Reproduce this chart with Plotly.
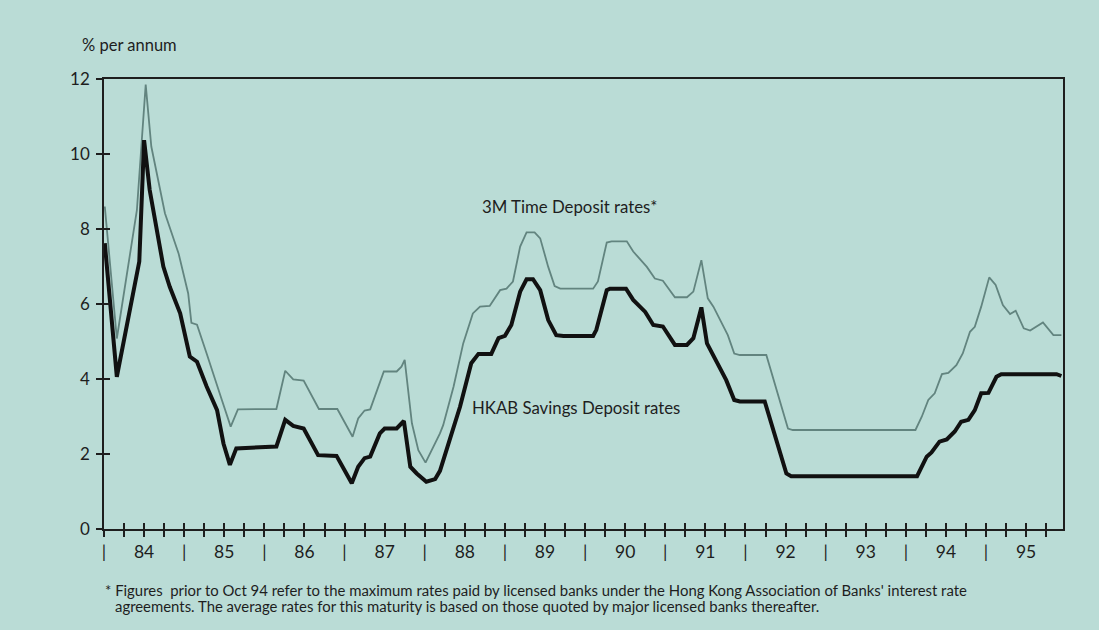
import plotly.graph_objects as go

# HKAB Savings Deposit rates (% p.a.), date as decimal year
hkab_t = [1984.01, 1984.16, 1984.44, 1984.50, 1984.57, 1984.74, 1984.82, 1984.95, 1985.07, 1985.16,
          1985.28, 1985.41, 1985.49, 1985.57, 1985.65, 1986.15, 1986.26, 1986.36, 1986.49, 1986.67,
          1986.90, 1987.09, 1987.17, 1987.25, 1987.32, 1987.44, 1987.50, 1987.65, 1987.74, 1987.82,
          1987.90, 1988.02, 1988.13, 1988.19, 1988.31, 1988.44, 1988.58, 1988.67, 1988.83, 1988.92,
          1989.00, 1989.08, 1989.19, 1989.27, 1989.35, 1989.44, 1989.54, 1989.64, 1989.73, 1990.10,
          1990.14, 1990.27, 1990.31, 1990.51, 1990.60, 1990.75, 1990.85, 1990.97, 1991.12, 1991.27,
          1991.35, 1991.45, 1991.52, 1991.64, 1991.76, 1991.86, 1991.93, 1992.24, 1992.51, 1992.57,
          1994.14, 1994.26, 1994.32, 1994.42, 1994.51, 1994.61, 1994.69, 1994.78, 1994.86, 1994.94,
          1995.03, 1995.13, 1995.19, 1995.88, 1995.94]
hkab_v = [7.62, 4.06, 7.13, 10.37, 9.04, 7.00, 6.46, 5.75, 4.60, 4.46,
          3.80, 3.17, 2.28, 1.71, 2.15, 2.20, 2.91, 2.75, 2.68, 1.97,
          1.95, 1.22, 1.66, 1.89, 1.93, 2.55, 2.68, 2.68, 2.88, 1.66,
          1.48, 1.26, 1.33, 1.55, 2.37, 3.26, 4.42, 4.67, 4.67, 5.09,
          5.15, 5.44, 6.33, 6.66, 6.66, 6.37, 5.57, 5.17, 5.15, 5.15,
          5.31, 6.37, 6.41, 6.41, 6.11, 5.79, 5.44, 5.40, 4.91, 4.91,
          5.09, 5.91, 4.95, 4.46, 3.97, 3.44, 3.40, 3.40, 1.48, 1.41,
          1.41, 1.93, 2.04, 2.33, 2.39, 2.60, 2.86, 2.91, 3.17, 3.62,
          3.63, 4.06, 4.13, 4.13, 4.08]

# 3M Time Deposit rates (% p.a.)
td_t = [1984.01, 1984.16, 1984.41, 1984.52, 1984.59, 1984.76, 1984.93, 1985.05, 1985.09, 1985.16,
        1985.28, 1985.38, 1985.47, 1985.58, 1985.67, 1986.15, 1986.26, 1986.36, 1986.49, 1986.68,
        1986.91, 1987.10, 1987.17, 1987.25, 1987.32, 1987.49, 1987.65, 1987.71, 1987.75, 1987.84,
        1987.92, 1988.01, 1988.11, 1988.19, 1988.23, 1988.36, 1988.48, 1988.60, 1988.69, 1988.81,
        1988.94, 1989.02, 1989.10, 1989.19, 1989.27, 1989.37, 1989.44, 1989.54, 1989.62, 1989.69,
        1990.10, 1990.16, 1990.27, 1990.33, 1990.52, 1990.60, 1990.77, 1990.87, 1990.97, 1991.12,
        1991.27, 1991.35, 1991.45, 1991.53, 1991.60, 1991.70, 1991.78, 1991.86, 1991.93, 1992.26,
        1992.53, 1992.59, 1994.12, 1994.20, 1994.28, 1994.36, 1994.45, 1994.53, 1994.63, 1994.71,
        1994.80, 1994.86, 1994.94, 1995.04, 1995.12, 1995.21, 1995.30, 1995.37, 1995.47, 1995.55,
        1995.71, 1995.84, 1995.94]
td_v = [8.60, 5.08, 8.50, 11.85, 10.20, 8.42, 7.35, 6.28, 5.50, 5.45,
        4.68, 4.06, 3.44, 2.73, 3.19, 3.20, 4.22, 3.99, 3.96, 3.20,
        3.20, 2.46, 2.95, 3.16, 3.19, 4.20, 4.20, 4.33, 4.51, 2.82,
        2.10, 1.77, 2.20, 2.55, 2.77, 3.80, 4.95, 5.75, 5.93, 5.95,
        6.37, 6.41, 6.60, 7.53, 7.91, 7.91, 7.75, 6.99, 6.48, 6.41,
        6.41, 6.60, 7.64, 7.67, 7.67, 7.40, 6.99, 6.68, 6.62, 6.18,
        6.18, 6.33, 7.17, 6.15, 5.93, 5.49, 5.17, 4.68, 4.64, 4.64,
        2.68, 2.64, 2.64, 3.00, 3.44, 3.62, 4.13, 4.16, 4.37, 4.68,
        5.26, 5.39, 5.93, 6.71, 6.51, 5.97, 5.73, 5.82, 5.35, 5.29,
        5.51, 5.17, 5.17]

years = list(range(1984, 1996))
year_labels = ["84", "85", "86", "87", "88", "89", "90", "91", "92", "93", "94", "95"]
y_ticks = [0, 2, 4, 6, 8, 10, 12]

# quarterly tick positions with labels: "|" at year start, year label mid-year
tickvals, ticktext = [], []
for y, lab in zip(years, year_labels):
    for q in range(4):
        tickvals.append(y + q * 0.25)
        ticktext.append("|" if q == 0 else (lab if q == 2 else ""))

BG = "#badcd6"
FONT = "Lato"
ink = "#1e1e1e"

fig = go.Figure()
fig.add_trace(go.Scatter(x=td_t, y=td_v, mode="lines", name="3M Time Deposit rates*",
                         line=dict(color="#62847f", width=1.8), hoverinfo="skip"))
fig.add_trace(go.Scatter(x=hkab_t, y=hkab_v, mode="lines", name="HKAB Savings Deposit rates",
                         line=dict(color="#111111", width=4), hoverinfo="skip"))
# invisible copy to anchor the overlay axes that draw the inner half of the crossing ticks
fig.add_trace(go.Scatter(x=hkab_t, y=hkab_v, mode="lines", xaxis="x2", yaxis="y2",
                         line=dict(width=0), opacity=0, hoverinfo="skip", showlegend=False))

xr = [1984.0, 1995.96]
fig.update_layout(
    width=1099, height=630,
    paper_bgcolor=BG, plot_bgcolor=BG,
    margin=dict(l=104, r=36, t=79, b=101),
    showlegend=False,
    font=dict(family=FONT, color=ink),
    xaxis=dict(range=xr, tickmode="array", tickvals=tickvals, ticktext=ticktext,
               ticks="outside", ticklen=6, tickwidth=1.5, tickcolor=ink,
               showline=True, linecolor=ink, linewidth=1.6, mirror=True,
               showgrid=False, zeroline=False, tickfont=dict(size=17.5, family=FONT, color=ink),
               ticklabelstandoff=0),
    yaxis=dict(range=[0, 12], tickmode="array", tickvals=y_ticks,
               ticks="outside", ticklen=6, tickwidth=1.5, tickcolor=ink,
               showline=True, linecolor=ink, linewidth=1.6, mirror=True,
               showgrid=False, zeroline=False, tickfont=dict(size=17, family=FONT, color=ink),
               ticklabelstandoff=3),
    xaxis2=dict(overlaying="x", matches="x", range=xr, tickmode="array", tickvals=tickvals,
                ticks="inside", ticklen=6, tickwidth=1.5, tickcolor=ink,
                showticklabels=False, showline=False, showgrid=False, zeroline=False, side="bottom"),
    yaxis2=dict(overlaying="y", matches="y", range=[0, 12], tickmode="array", tickvals=y_ticks,
                ticks="inside", ticklen=6, tickwidth=1.5, tickcolor=ink,
                showticklabels=False, showline=False, showgrid=False, zeroline=False, side="left"),
)

fig.add_annotation(text="% per annum", xref="paper", yref="paper", x=-0.025, y=1.0,
                   yshift=34, xanchor="left", yanchor="middle", showarrow=False,
                   font=dict(size=16.5, family=FONT, color=ink))
fig.add_annotation(text="3M Time Deposit rates*", x=1988.69, y=8.59, xanchor="left",
                   yanchor="middle", showarrow=False, font=dict(size=16.8, family=FONT, color=ink))
fig.add_annotation(text="HKAB Savings Deposit rates", x=1988.56, y=3.23, xanchor="left",
                   yanchor="middle", showarrow=False, font=dict(size=16.8, family=FONT, color=ink))
fig.add_annotation(
    text="* Figures  prior to Oct 94 refer to the maximum rates paid by licensed banks under the Hong Kong Association of Banks' interest rate",
    xref="paper", yref="paper", x=-0.001, y=0, yshift=-61, xanchor="left", yanchor="middle",
    align="left", showarrow=False, font=dict(size=14.9, family=FONT, color=ink))
fig.add_annotation(
    text="agreements. The average rates for this maturity is based on those quoted by major licensed banks thereafter.",
    xref="paper", yref="paper", x=0.0094, y=0, yshift=-77, xanchor="left", yanchor="middle",
    align="left", showarrow=False, font=dict(size=14.9, family=FONT, color=ink))

fig.write_html("out.html", config={"displayModeBar": False},
               post_script="document.body.style.margin='0';document.body.style.background='%s';" % BG)
